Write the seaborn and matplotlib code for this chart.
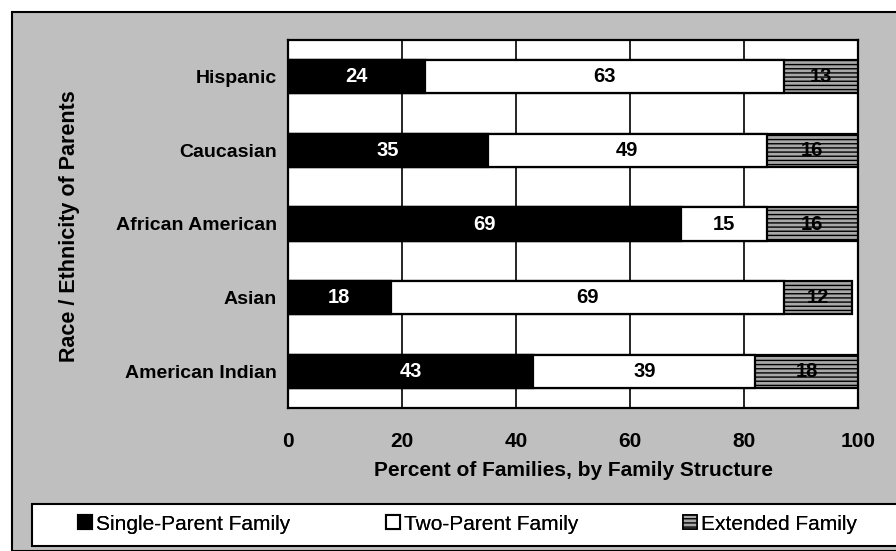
import numpy as np
import pandas as pd
import seaborn as sns
import matplotlib.pyplot as plt
from matplotlib.patches import Rectangle, Patch

# Percent of families by family structure, per race/ethnicity of parents
groups = ["Hispanic", "Caucasian", "African American", "Asian", "American Indian"]
single_parent = [24, 35, 69, 18, 43]
two_parent = [63, 49, 15, 69, 39]
extended = [13, 16, 16, 12, 18]
x_ticks = [0, 20, 40, 60, 80, 100]
series_names = ["Single-Parent Family", "Two-Parent Family", "Extended Family"]

sns.set_theme(style="white")
plt.rcParams["font.family"] = ["Liberation Sans", "DejaVu Sans"]
plt.rcParams["text.color"] = "black"
plt.rcParams["axes.labelcolor"] = "black"
plt.rcParams["xtick.color"] = "black"
plt.rcParams["ytick.color"] = "black"
plt.rcParams["hatch.color"] = "#202020"
plt.rcParams["hatch.linewidth"] = 1.0

W, H = 896, 551
fig = plt.figure(figsize=(W / 100, H / 100), dpi=100, facecolor="white")

# shaded chart area with outer frame
fig.patches.append(Rectangle((12 / W, 0), 1, 1 - 12 / H, transform=fig.transFigure,
                             facecolor="#bfbfbf", edgecolor="black", linewidth=1.5,
                             zorder=-10))

ax = fig.add_axes([288 / W, 1 - 408 / H, (858 - 288) / W, (408 - 40) / H])
ax.set_facecolor("white")

df = pd.DataFrame({
    "group": groups,
    "single": single_parent,
    "two": two_parent,
    "ext": extended,
})
df["cum_two"] = df["single"] + df["two"]
df["cum_ext"] = df["cum_two"] + df["ext"]

ext_color = "#a8a8a8"
bar_h = 0.45
common = dict(y="group", data=df, orient="h", width=bar_h, edgecolor="black",
              linewidth=1.6, ax=ax, order=groups, zorder=3)
sns.barplot(x="cum_ext", color=ext_color, hatch="----", **common)
sns.barplot(x="cum_two", color="white", **common)
sns.barplot(x="single", color="black", **common)
for p in ax.patches:
    p.set_facecolor(p.get_facecolor()[:3] + (1.0,))

# value labels centred in each segment
lbl = dict(ha="center", va="center", fontsize=14.5, fontweight="bold", zorder=5)
for i in range(len(groups)):
    s, t, e = single_parent[i], two_parent[i], extended[i]
    ax.text(s / 2, i, f"{s}", color="white", **lbl)
    ax.text(s + t / 2, i, f"{t}", color="black", **lbl)
    ax.text(s + t + e / 2, i, f"{e}", color="black", **lbl)

ax.set_xlim(0, 100)
ax.set_ylim(len(groups) - 0.5, -0.5)
ax.set_xticks(x_ticks)
ax.set_xticklabels([str(v) for v in x_ticks], fontsize=15, fontweight="bold")
ax.xaxis.grid(True, color="black", linewidth=1.2, zorder=1)
ax.set_axisbelow(True)
ax.tick_params(axis="x", direction="out", length=5, width=1.2, color="black", pad=12)
ax.tick_params(axis="y", length=0, pad=8)
ax.set_yticks(range(len(groups)))
ax.set_yticklabels(groups, fontsize=14, fontweight="bold")
ax.set_yticks(np.arange(0.5, len(groups) - 0.5, 1), minor=True)
ax.tick_params(axis="y", which="minor", direction="inout", length=10, width=1.2,
               color="black")
for sp in ax.spines.values():
    sp.set_visible(True)
    sp.set_color("black")
    sp.set_linewidth(1.6)

ax.set_xlabel("")
ax.set_ylabel("")
fig.text(573 / W, 1 - 470 / H, "Percent of Families, by Family Structure",
         ha="center", va="center", fontsize=15, fontweight="bold")
fig.text(70 / W, 1 - 226 / H, "Race / Ethnicity of Parents", rotation=90,
         ha="center", va="center", fontsize=15.5, fontweight="bold")

# legend band along the bottom
fig.patches.append(Rectangle((32 / W, 1 - 546 / H), 1, 42 / H, transform=fig.transFigure,
                             facecolor="white", edgecolor="black", linewidth=1.5,
                             zorder=-5))
handles = [
    Patch(facecolor="black", edgecolor="black", linewidth=1.5),
    Patch(facecolor="white", edgecolor="black", linewidth=1.5),
    Patch(facecolor=ext_color, edgecolor="black", linewidth=1.2, hatch="----"),
]
marker_x = [78, 386, 683]
for h, name, mx in zip(handles, series_names, marker_x):
    lg = fig.legend([h], [name], loc="center left",
                    bbox_to_anchor=(mx / W, 1 - 524 / H), fontsize=15,
                    frameon=False, handlelength=0.65, handleheight=0.65,
                    handletextpad=0.2, borderpad=0, borderaxespad=0)
    fig.add_artist(lg)

fig.savefig("out.png", dpi=100, facecolor=fig.get_facecolor())
